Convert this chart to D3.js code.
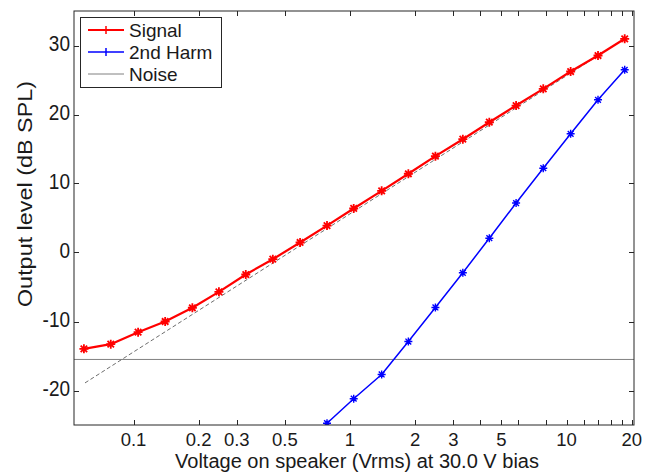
<!DOCTYPE html>
<html>
<head>
<meta charset="utf-8">
<script src="https://cdn.jsdelivr.net/npm/d3@7"></script>
<style>
  html, body { margin: 0; padding: 0; background: #fff; }
  svg text { font-family: "Liberation Sans", Arial, sans-serif; fill: #1a1a1a; }
</style>
</head>
<body>
<svg id="chart" width="662" height="472"></svg>
<script>
// Drive voltage (Vrms) for each measurement step
const voltage = [0.059, 0.0785, 0.105, 0.14, 0.187, 0.248, 0.33, 0.44, 0.588, 0.783,
                 1.04, 1.40, 1.86, 2.48, 3.32, 4.40, 5.85, 7.81, 10.45, 13.98, 18.57];
// Fundamental output level (dB SPL)
const signalLevel = [-13.96, -13.29, -11.55, -10.0, -8.01, -5.70, -3.19, -0.97, 1.45, 3.9,
                     6.38, 8.94, 11.41, 13.96, 16.42, 18.88, 21.30, 23.72, 26.23, 28.55, 30.97];
// Second harmonic (only steps above the plot floor)
const harmVoltage = [0.783, 1.04, 1.40, 1.86, 2.48, 3.32, 4.40, 5.85, 7.81, 10.45, 13.98, 18.57];
const harmLevel = [-24.74, -21.19, -17.68, -12.90, -7.97, -2.94, 2.07, 7.17, 12.22, 17.20, 22.13, 26.48];
// Measurement noise floor (dB SPL)
const noiseLevel = -15.5;
// Ideal 20 dB/decade reference line end points
const fitVoltage = [0.0597, 18.57];
const fitLevel = [-18.9, 31.0];

const xTickLabelled = [0.1, 0.2, 0.3, 0.5, 1, 2, 3, 5, 10, 20];
const xTickMinor = [4, 6, 8, 12, 14, 16, 18];
const yTicks = [-20, -10, 0, 10, 20, 30];

const legendItems = [
  { name: "Signal", color: "#ff0000", width: 2, marker: true },
  { name: "2nd Harm", color: "#0000ff", width: 1.5, marker: true },
  { name: "Noise", color: "#808080", width: 1, marker: false }
];

const plotLeft = 74, plotRight = 634, plotTop = 11, plotBottom = 425;
const svg = d3.select("#chart");

const x = d3.scaleLog().domain([0.0531, 20.5]).range([plotLeft, plotRight]);
const y = d3.scaleLinear().domain([-25, 35]).range([plotBottom, plotTop]);

svg.append("defs").append("clipPath").attr("id", "plotClip")
  .append("rect").attr("x", plotLeft).attr("y", plotTop)
  .attr("width", plotRight - plotLeft).attr("height", plotBottom - plotTop);

const plot = svg.append("g").attr("clip-path", "url(#plotClip)");

// Noise floor
plot.append("line")
  .attr("x1", plotLeft).attr("x2", plotRight)
  .attr("y1", y(noiseLevel)).attr("y2", y(noiseLevel))
  .attr("stroke", "#808080").attr("stroke-width", 1);

// Reference slope line
const line = d3.line().x(d => x(d[0])).y(d => y(d[1]));
plot.append("path")
  .datum(d3.zip(fitVoltage, fitLevel))
  .attr("d", line)
  .attr("fill", "none").attr("stroke", "#6e6e6e")
  .attr("stroke-width", 1).attr("stroke-dasharray", "4,2.5");

function asterisk(g, cx, cy, s, color, w) {
  const d = 0.72 * s;
  g.append("path")
    .attr("d", `M${cx - s},${cy}H${cx + s}M${cx},${cy - s}V${cy + s}` +
               `M${cx - d},${cy - d}L${cx + d},${cy + d}M${cx - d},${cy + d}L${cx + d},${cy - d}`)
    .attr("stroke", color).attr("stroke-width", w).attr("fill", "none");
}

function series(xs, ys, color, w, ms, mw) {
  const pts = d3.zip(xs, ys);
  plot.append("path").datum(pts).attr("d", line)
    .attr("fill", "none").attr("stroke", color)
    .attr("stroke-width", w).attr("stroke-linejoin", "round");
  const mg = plot.append("g");
  pts.forEach(p => asterisk(mg, x(p[0]), y(p[1]), ms, color, mw));
}

series(voltage, signalLevel, "#ff0000", 2.2, 4.5, 1.8);
series(harmVoltage, harmLevel, "#0000ff", 1.5, 4, 1.4);

// Axes box and ticks (inside, mirrored on top/right)
const tickLen = 5;
const axisColor = "#262626";
svg.append("rect").attr("x", plotLeft).attr("y", plotTop)
  .attr("width", plotRight - plotLeft).attr("height", plotBottom - plotTop)
  .attr("fill", "none").attr("stroke", axisColor).attr("stroke-width", 1);

const ticks = svg.append("g").attr("stroke", axisColor).attr("stroke-width", 1);
xTickLabelled.concat(xTickMinor).forEach(v => {
  const px = Math.round(x(v)) + 0.5;
  ticks.append("line").attr("x1", px).attr("x2", px).attr("y1", plotBottom).attr("y2", plotBottom - tickLen);
  ticks.append("line").attr("x1", px).attr("x2", px).attr("y1", plotTop).attr("y2", plotTop + tickLen);
});
yTicks.forEach(v => {
  const py = Math.round(y(v)) + 0.5;
  ticks.append("line").attr("x1", plotLeft).attr("x2", plotLeft + tickLen).attr("y1", py).attr("y2", py);
  ticks.append("line").attr("x1", plotRight).attr("x2", plotRight - tickLen).attr("y1", py).attr("y2", py);
});

svg.append("g").selectAll("text").data(xTickLabelled).join("text")
  .attr("x", d => x(d)).attr("y", 446)
  .attr("text-anchor", "middle").attr("font-size", 18.5)
  .text(d => String(d));

// y tick labels, slightly tall glyphs
svg.append("g").selectAll("text").data(yTicks).join("text")
  .attr("transform", d => `translate(70,${y(d) - 2.7}) scale(1,1.18)`)
  .attr("y", 6.8)
  .attr("text-anchor", "end").attr("font-size", 19)
  .text(d => d);

svg.append("text")
  .attr("x", (plotLeft + plotRight) / 2 + 3).attr("y", 468)
  .attr("text-anchor", "middle").attr("font-size", 20)
  .text("Voltage on speaker (Vrms) at 30.0 V bias");

svg.append("text")
  .attr("transform", `translate(32,194) rotate(-90) scale(1.17,1)`)
  .attr("text-anchor", "middle").attr("font-size", 20)
  .text("Output level (dB SPL)");

// Legend
const lg = svg.append("g");
lg.append("rect").attr("x", 80.5).attr("y", 17.5).attr("width", 141).attr("height", 70)
  .attr("fill", "#fff").attr("stroke", axisColor).attr("stroke-width", 1);
legendItems.forEach((it, i) => {
  const ly = 30 + i * 22;
  lg.append("line").attr("x1", 88).attr("x2", 124).attr("y1", ly).attr("y2", ly)
    .attr("stroke", it.color).attr("stroke-width", it.width);
  if (it.marker) {
    lg.append("line").attr("x1", 106).attr("x2", 106).attr("y1", ly - 4).attr("y2", ly + 4)
      .attr("stroke", it.color).attr("stroke-width", 1.5);
  }
  lg.append("text").attr("x", 129).attr("y", ly + 7).attr("font-size", 19).text(it.name);
});
</script>
</body>
</html>
